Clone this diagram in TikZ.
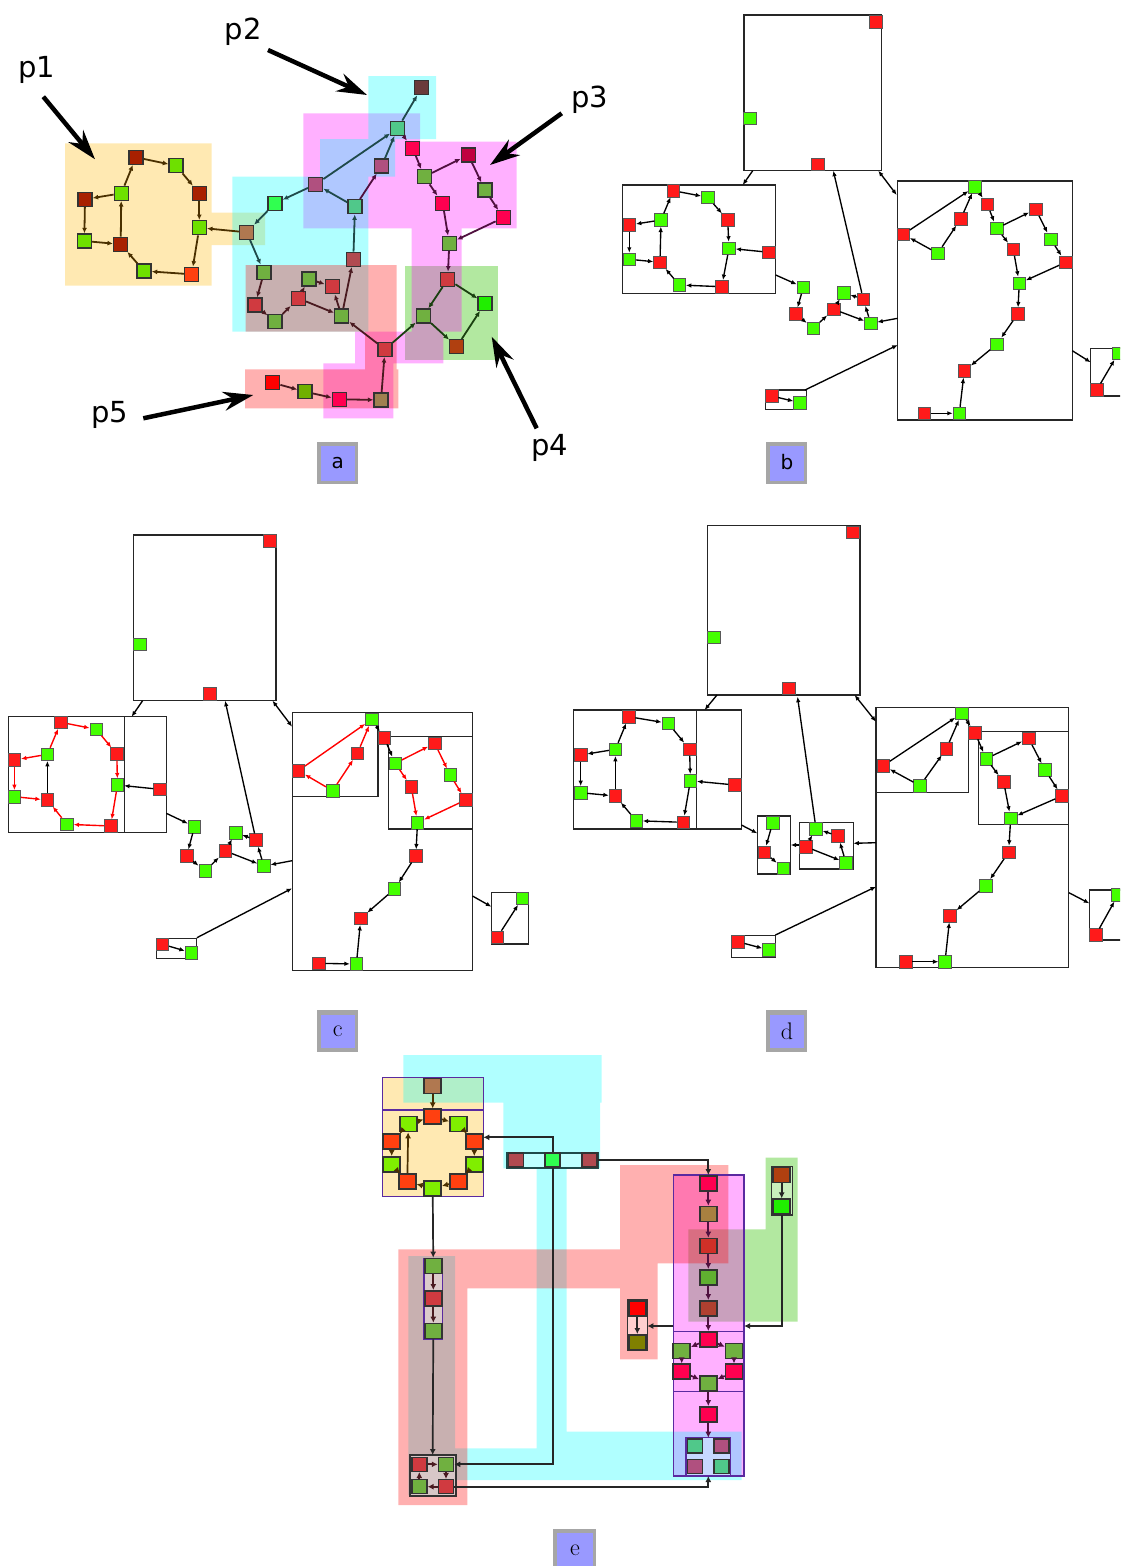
\documentclass[tikz,border=0pt]{standalone}
\usepackage{fontspec}
\newfontfamily\dvs{DejaVu Sans}
\usetikzlibrary{arrows.meta}
\definecolor{nr}{HTML}{FF1A1A}
\definecolor{ng}{HTML}{44FF00}
\definecolor{aDR}{HTML}{A82000}
\definecolor{aLG}{HTML}{6EE000}
\definecolor{aOR}{HTML}{FF4010}
\definecolor{aBR}{HTML}{6A3A3A}
\definecolor{aTG}{HTML}{50C88A}
\definecolor{aMV}{HTML}{B0507F}
\definecolor{aBG}{HTML}{30FF50}
\definecolor{aBN}{HTML}{B07850}
\definecolor{aOG}{HTML}{70B040}
\definecolor{aMR}{HTML}{B04A50}
\definecolor{aPK}{HTML}{FF0050}
\definecolor{aCR}{HTML}{C00040}
\definecolor{aRD}{HTML}{D03A40}
\definecolor{aGG}{HTML}{20EE00}
\definecolor{aOB}{HTML}{B04010}
\definecolor{aRR}{HTML}{FF0000}
\definecolor{aOL}{HTML}{70B000}
\definecolor{aTN}{HTML}{A08050}
\definecolor{eLG}{HTML}{80EE00}
\definecolor{eM2}{HTML}{A88040}
\definecolor{eM3}{HTML}{D03028}
\definecolor{eM4}{HTML}{60B030}
\definecolor{eM5}{HTML}{B04030}
\definecolor{eOL}{HTML}{808000}
\definecolor{pcA}{HTML}{4A3000}
\definecolor{pcB}{HTML}{1F4A4A}
\definecolor{pcC}{HTML}{50103F}
\definecolor{pcD}{HTML}{1A4010}
\definecolor{pcE}{HTML}{4A1A20}
\definecolor{frP}{HTML}{5A2AA0}
\definecolor{cY}{rgb}{1,0.727,0}
\definecolor{cG}{rgb}{0.25,0.78,0.07}
\definecolor{cM}{rgb}{1,0,1}
\definecolor{cC}{rgb}{0,1,1}
\definecolor{cS}{rgb}{1,0,0}
\definecolor{lblue}{HTML}{9999FF}
\newcommand\qa[4]{\node[sqa,fill=#4] (#1) at (#2,#3) {};}
\newcommand\qb[4]{\node[sqb,fill=#4] (#1) at (#2,#3) {};}
\newcommand\qe[4]{\node[sqe,fill=#4] (#1) at (#2,#3) {};}
\newcommand\qs[4]{\node[sqs,fill=#4] (#1) at (#2,#3) {};}
\begin{document}
\begin{tikzpicture}[x=1pt,y=-1pt,
  sqa/.style={rectangle,draw=black!80,line width=1.4pt,minimum size=14pt,inner sep=0pt},
  sqb/.style={rectangle,draw=black!65,line width=0.6pt,minimum size=12.5pt,inner sep=0pt},
  sqe/.style={rectangle,draw=black!80,line width=1.6pt,minimum width=17pt,minimum height=15pt,inner sep=0pt},
  sqs/.style={rectangle,draw=black!80,line width=1.5pt,minimum width=15pt,minimum height=14pt,inner sep=0pt},
  ea/.style={line width=1.8pt,-{Latex[length=5.5pt,width=5pt]}},
  eb/.style={line width=1.35pt,draw=black,-{Latex[length=5.5pt,width=4.5pt]}},
  ebb/.style={line width=1.35pt,draw=black,{Latex[length=5.5pt,width=4.5pt]}-{Latex[length=5.5pt,width=4.5pt]}},
  er/.style={line width=1.4pt,draw=red,-{Latex[length=5.5pt,width=4.5pt]}},
  ee/.style={line width=1.7pt,-{Latex[length=6pt,width=6pt]}},
  bx/.style={draw=black!85,line width=1.1pt},
  bigarr/.style={line width=4.5pt,-{Stealth[length=30pt,width=19pt,inset=10pt]}},
  plab/.style={font=\dvs\fontsize{29}{30}\selectfont,inner sep=0pt},
  lsans/.style={font=\dvs\fontsize{20}{20}\selectfont,inner sep=0pt},
  lser/.style={font=\fontsize{24}{24}\selectfont,inner sep=0pt}]
\clip (0,0) rectangle (1120,1566);
\fill[white] (0,0) rectangle (1120,1566);

% ================= panel a backgrounds
\fill[cY,fill opacity=0.3] (65,143.3) rectangle (211.7,285.7) (211.7,212.7) rectangle (265,245);
\fill[cG,fill opacity=0.4] (405,266) rectangle (498.3,360);
\fill[cM,fill opacity=0.31] (303.3,113.3) rectangle (420,228.3) (420,141.7) rectangle (516.7,228.3)
  (411.7,228.3) rectangle (461.7,331.7) (355,331.7) rectangle (443.3,363.3) (323.3,363.3) rectangle (393.3,418.3);
\fill[cC,fill opacity=0.31] (368.3,76) rectangle (436,139) (320,139) rectangle (395,176.7)
  (320,176.7) rectangle (368.3,228) (232.3,176.7) rectangle (368.3,331.7);
\fill[cS,fill opacity=0.31] (245.7,265) rectangle (396.7,331.7) (365,331.7) rectangle (396.7,369.3)
  (245,369.3) rectangle (398.3,408.3);

% ================= panel a nodes
\qa{a1}{136}{157.3}{aDR}
\qa{a2}{176}{165.7}{aLG}
\qa{a3}{199.3}{193.3}{aDR}
\qa{a4}{199.3}{227.7}{aLG}
\qa{a5}{191.7}{274.3}{aOR}
\qa{a6}{144}{271}{aLG}
\qa{a7}{120.7}{244.3}{aDR}
\qa{a8}{121.3}{193.3}{aLG}
\qa{a9}{85}{199.3}{aDR}
\qa{a10}{84.3}{241}{aLG}
\qa{a11}{421.7}{87.7}{aBR}
\qa{a12}{397.7}{128.3}{aTG}
\qa{a13}{315.7}{184.3}{aMV}
\qa{a14}{381.7}{166}{aMV}
\qa{a15}{355}{206.7}{aTG}
\qa{a16}{275}{203.3}{aBG}
\qa{a17}{246.7}{232.3}{aBN}
\qa{a18}{264}{272.3}{aOG}
\qa{a19}{353.3}{259.3}{aMR}
\qa{a20}{412.7}{148.3}{aPK}
\qa{a21}{468.3}{155}{aCR}
\qa{a22}{424.3}{176.7}{aOG}
\qa{a23}{485}{190}{aOG}
\qa{a24}{503.3}{217.7}{aPK}
\qa{a25}{442.7}{203.3}{aPK}
\qa{a26}{449.3}{243.3}{aOG}
\qa{a27}{447.7}{279.3}{aRD}
\qa{a28}{485}{303.3}{aGG}
\qa{a29}{423.3}{316}{aOG}
\qa{a30}{456.7}{346.7}{aOB}
\qa{a31}{385}{349.3}{aRD}
\qa{a32}{255}{305}{aRD}
\qa{a33}{275}{321.7}{aOG}
\qa{a34}{298.3}{298.3}{aRD}
\qa{a35}{309}{279}{aOG}
\qa{a36}{332.3}{286.7}{aRD}
\qa{a37}{341.7}{316}{aOG}
\qa{a38}{272.7}{382.7}{aRR}
\qa{a39}{305}{391.7}{aOL}
\qa{a40}{339.3}{399.3}{aPK}
\qa{a41}{381}{400}{aTN}

% panel a edges
\begin{scope}[pcA]
\draw[ea] (a1) -- (a2); \draw[ea] (a2) -- (a3); \draw[ea] (a3) -- (a4); \draw[ea] (a4) -- (a5);
\draw[ea] (a5) -- (a6); \draw[ea] (a6) -- (a7); \draw[ea] (a7) -- (a8); \draw[ea] (a8) -- (a1);
\draw[ea] (a8) -- (a9); \draw[ea] (a9) -- (a10); \draw[ea] (a10) -- (a7); \draw[ea] (a17) -- (a4);
\end{scope}
\begin{scope}[pcB]
\draw[ea] (a12) -- (a11); \draw[ea] (a13) -- (a12); \draw[ea] (a15) -- (a13); \draw[ea] (a14) -- (a12);
\draw[ea] (a13) -- (a16); \draw[ea] (a16) -- (a17); \draw[ea] (a17) -- (a18); \draw[ea] (a19) -- (a15);
\end{scope}
\begin{scope}[pcC]
\draw[ea] (a15) -- (a14); \draw[ea] (a12) -- (a20); \draw[ea] (a20) -- (a22); \draw[ea] (a22) -- (a21);
\draw[ea] (a21) -- (a23); \draw[ea] (a23) -- (a24); \draw[ea] (a24) -- (a26); \draw[ea] (a22) -- (a25);
\draw[ea] (a25) -- (a26); \draw[ea] (a26) -- (a27);
\end{scope}
\begin{scope}[pcD]
\draw[ea] (a27) -- (a28); \draw[ea] (a27) -- (a29); \draw[ea] (a29) -- (a30); \draw[ea] (a30) -- (a28);
\draw[ea] (a31) -- (a29);
\end{scope}
\begin{scope}[pcE]
\draw[ea] (a18) -- (a32); \draw[ea] (a32) -- (a33); \draw[ea] (a33) -- (a34); \draw[ea] (a34) -- (a35);
\draw[ea] (a37) -- (a36); \draw[ea] (a35) -- (a36); \draw[ea] (a34) -- (a37); \draw[ea] (a37) -- (a19);
\draw[ea] (a31) -- (a37); \draw[ea] (a38) -- (a39); \draw[ea] (a39) -- (a40); \draw[ea] (a40) -- (a41);
\draw[ea] (a41) -- (a31);
\end{scope}

% p labels
\node[plab] (lp1) at (36.7,70) {p1};
\node[plab] (lp2) at (243.3,32) {p2};
\node[plab] (lp3) at (590,100) {p3};
\node[plab] (lp4) at (550,448) {p4};
\node[plab] (lp5) at (110,415) {p5};
\coordinate (ap1s) at (43.3,96.7); \coordinate (ap1e) at (95,159.3);
\coordinate (ap2s) at (268,50); \coordinate (ap2e) at (367,95);
\coordinate (ap3s) at (561.7,113.3); \coordinate (ap3e) at (490,165);
\coordinate (ap4s) at (536.7,428.3); \coordinate (ap4e) at (491.7,336.7);
\coordinate (ap5s) at (143.3,418.3); \coordinate (ap5e) at (253.3,395);
\draw[bigarr] (ap1s) -- (ap1e);
\draw[bigarr] (ap2s) -- (ap2e);
\draw[bigarr] (ap3s) -- (ap3e);
\draw[bigarr] (ap4s) -- (ap4e);
\draw[bigarr] (ap5s) -- (ap5e);

% ================= panel b
\draw[bx] (744,15) rectangle (881.7,170.7);
\draw[bx] (622.7,185) rectangle (775.7,293.3);
\draw[bx] (897.7,181) rectangle (1072.3,420);
\draw[bx] (765.7,390) rectangle (806.7,409.3);
\draw[bx] (1090.7,348.3) rectangle (1130,396);
\coordinate (bTL) at (752.7,170.7); \coordinate (bLT) at (742.7,185);
\coordinate (bTR) at (878.3,170.7); \coordinate (bRT) at (896.7,195);
\coordinate (bTm) at (833.3,170.7); \coordinate (bLm) at (775.7,275);
\coordinate (bRm) at (897.7,318.3); \coordinate (bSR) at (805,390);
\coordinate (bRS) at (897.7,345); \coordinate (bRQ) at (1072.3,350.7); \coordinate (bQR) at (1090.7,362.3);
\qb{bt1}{875.7}{21.7}{nr} \qb{bt2}{750}{118.3}{ng} \qb{bt3}{817.7}{164.3}{nr}
\qb{ba}{673.3}{190.7}{nr} \qb{bb}{707.7}{197.3}{ng} \qb{bc}{727.7}{220}{nr} \qb{bd}{729}{248.3}{ng}
\qb{be}{769}{252.3}{nr} \qb{bf}{721.7}{286.7}{nr} \qb{bg}{679.3}{285}{ng} \qb{bh}{660}{262.3}{nr}
\qb{bi}{661}{220}{ng} \qb{bj}{629.3}{225}{nr} \qb{bk}{629.3}{259.3}{ng}
\qb{bm1}{803.3}{287.3}{ng} \qb{bm2}{795.7}{314}{nr} \qb{bm3}{813.3}{328.3}{ng} \qb{bm4}{833.7}{309.3}{nr}
\qb{bm5}{843.7}{292.7}{ng} \qb{bm6}{863.3}{299.3}{nr} \qb{bm7}{870.7}{323.3}{ng}
\qb{br1}{975}{186.7}{ng} \qb{br2}{903.3}{234.3}{nr} \qb{br3}{937.7}{253.3}{ng} \qb{br4}{960.7}{219}{nr}
\qb{br5}{987.3}{204.3}{nr} \qb{br6}{996.7}{228.3}{ng} \qb{br7}{1035.7}{209.3}{nr} \qb{br8}{1050.7}{239.3}{ng}
\qb{br9}{1065.7}{262.3}{nr} \qb{br10}{1013.3}{249.3}{nr} \qb{br11}{1019.3}{283.3}{ng} \qb{br12}{1017.7}{314}{nr}
\qb{br13}{996.7}{344.3}{ng} \qb{br14}{964.3}{371}{nr} \qb{br15}{959.3}{413.3}{ng} \qb{br16}{924.3}{413.3}{nr}
\qb{bs1}{771.7}{396}{nr} \qb{bs2}{800}{402.7}{ng}
\qb{bq1}{1096.7}{390}{nr} \qb{bq2}{1118.3}{353.3}{ng}
\draw[eb] (ba) -- (bb); \draw[eb] (bb) -- (bc); \draw[eb] (bc) -- (bd); \draw[eb] (be) -- (bd);
\draw[eb] (bd) -- (bf); \draw[eb] (bf) -- (bg); \draw[eb] (bg) -- (bh); \draw[eb] (bh) -- (bi);
\draw[eb] (bi) -- (ba); \draw[eb] (bi) -- (bj); \draw[eb] (bj) -- (bk); \draw[eb] (bk) -- (bh);
\draw[eb] (bLm) -- (bm1); \draw[eb] (bm1) -- (bm2); \draw[eb] (bm2) -- (bm3); \draw[eb] (bm3) -- (bm4);
\draw[eb] (bm4) -- (bm5); \draw[eb] (bm6) -- (bm5); \draw[eb] (bm4) -- (bm7); \draw[eb] (bm7) -- (bm6);
\draw[eb] (bm6) -- (bTm); \draw[eb] (bRm) -- (bm7);
\draw[eb] (br2) -- (br1); \draw[eb] (br3) -- (br2); \draw[eb] (br3) -- (br4); \draw[eb] (br4) -- (br1);
\draw[eb] (br1) -- (br5); \draw[eb] (br5) -- (br6); \draw[eb] (br6) -- (br7); \draw[eb] (br7) -- (br8);
\draw[eb] (br8) -- (br9); \draw[eb] (br9) -- (br11); \draw[eb] (br6) -- (br10); \draw[eb] (br10) -- (br11);
\draw[eb] (br11) -- (br12); \draw[eb] (br12) -- (br13); \draw[eb] (br13) -- (br14); \draw[eb] (br15) -- (br14);
\draw[eb] (br16) -- (br15);
\draw[eb] (bs1) -- (bs2); \draw[eb] (bSR) -- (bRS); \draw[eb] (bRQ) -- (bQR); \draw[eb] (bq1) -- (bq2);
\draw[eb] (bTL) -- (bLT); \draw[ebb] (bTR) -- (bRT);

% ================= panel c
\draw[bx] (133.3,535) rectangle (276,700.7);
\draw[bx] (8.6,716.7) rectangle (166.3,832.7);
\draw[bx] (124.4,716.7) -- (124.4,832.7);
\draw[bx] (292.1,712.3) rectangle (472.5,970.7);
\draw[bx] (292.1,796.7) -- (378,796.7) -- (378,712.3);
\draw[bx] (388.3,736.7) rectangle (472.5,829);
\draw[bx] (156.4,938.3) rectangle (196.9,958.7);
\draw[bx] (491.4,892.7) rectangle (528.5,944);
\coordinate (cTL) at (142.6,700.7); \coordinate (cLT) at (131.6,716.7);
\coordinate (cTR) at (272.5,700.7); \coordinate (cRT) at (292.1,726.7);
\coordinate (cTm) at (225.1,700.7); \coordinate (cLm) at (166.3,813.3);
\coordinate (cRm) at (292.1,860.7); \coordinate (cSR) at (196.9,937.7);
\coordinate (cRS) at (292.1,888.3); \coordinate (cRQ) at (472.5,896); \coordinate (cQR) at (491.4,906.7);
\qb{ct1}{269.7}{541}{nr} \qb{ct2}{139.8}{644.3}{ng} \qb{ct3}{210}{694}{nr}
\qb{ca}{60.8}{722.3}{nr} \qb{cb}{96.2}{729.3}{ng} \qb{cc}{116.8}{754}{nr} \qb{cd}{117.5}{785}{ng}
\qb{ce}{159.8}{789.3}{nr} \qb{cf}{110.6}{826}{nr} \qb{cg}{67}{824.3}{ng} \qb{ch}{47.4}{800}{nr}
\qb{ci}{47.4}{754.3}{ng} \qb{cj}{14.4}{760}{nr} \qb{ck}{14.4}{796.7}{ng}
\qb{cm1}{194.5}{826.7}{ng} \qb{cm2}{186.6}{856}{nr} \qb{cm3}{205.1}{871}{ng} \qb{cm4}{225.4}{851}{nr}
\qb{cm5}{235.7}{832.7}{ng} \qb{cm6}{256}{840}{nr} \qb{cm7}{263.9}{866}{ng}
\qb{cr1}{371.8}{719.3}{ng} \qb{cr2}{298.3}{770.7}{nr} \qb{cr3}{332.6}{790.7}{ng} \qb{cr4}{357.4}{753.3}{nr}
\qb{cr5}{384.2}{737.7}{nr} \qb{cr6}{395.2}{763.3}{ng} \qb{cr7}{434.7}{743.3}{nr} \qb{cr8}{450.2}{775}{ng}
\qb{cr9}{465.6}{800}{nr} \qb{cr10}{411.3}{786.7}{nr} \qb{cr11}{417.5}{822.7}{ng} \qb{cr12}{415.8}{856}{nr}
\qb{cr13}{394.5}{889}{ng} \qb{cr14}{360.8}{918.3}{nr} \qb{cr15}{356.4}{964}{ng} \qb{cr16}{318.9}{963.3}{nr}
\qb{cs1}{162.5}{944.3}{nr} \qb{cs2}{191.4}{952.7}{ng}
\qb{cq1}{497.2}{937.3}{nr} \qb{cq2}{522.3}{898.3}{ng}
\draw[er] (ca) -- (cb); \draw[er] (cb) -- (cc); \draw[er] (cc) -- (cd); \draw[eb] (ce) -- (cd);
\draw[er] (cd) -- (cf); \draw[er] (cf) -- (cg); \draw[er] (cg) -- (ch); \draw[eb] (ch) -- (ci);
\draw[er] (ci) -- (ca); \draw[er] (ci) -- (cj); \draw[er] (cj) -- (ck); \draw[er] (ck) -- (ch);
\draw[eb] (cLm) -- (cm1); \draw[eb] (cm1) -- (cm2); \draw[eb] (cm2) -- (cm3); \draw[eb] (cm3) -- (cm4);
\draw[eb] (cm4) -- (cm5); \draw[eb] (cm6) -- (cm5); \draw[eb] (cm4) -- (cm7); \draw[eb] (cm7) -- (cm6);
\draw[eb] (cm6) -- (cTm); \draw[eb] (cRm) -- (cm7);
\draw[er] (cr2) -- (cr1); \draw[er] (cr3) -- (cr2); \draw[er] (cr3) -- (cr4); \draw[er] (cr4) -- (cr1);
\draw[eb] (cr1) -- (cr5); \draw[eb] (cr5) -- (cr6); \draw[er] (cr6) -- (cr7); \draw[er] (cr7) -- (cr8);
\draw[er] (cr8) -- (cr9); \draw[er] (cr9) -- (cr11); \draw[er] (cr6) -- (cr10); \draw[er] (cr10) -- (cr11);
\draw[eb] (cr11) -- (cr12); \draw[eb] (cr12) -- (cr13); \draw[eb] (cr13) -- (cr14); \draw[eb] (cr15) -- (cr14);
\draw[eb] (cr16) -- (cr15);
\draw[eb] (cs1) -- (cs2); \draw[eb] (cSR) -- (cRS); \draw[eb] (cRQ) -- (cQR); \draw[eb] (cq1) -- (cq2);
\draw[eb] (cTL) -- (cLT); \draw[ebb] (cTR) -- (cRT);

% ================= panel d
\draw[bx] (707.5,525.7) rectangle (860,695);
\draw[bx] (573.6,710) rectangle (741.4,829);
\draw[bx] (696.8,710) -- (696.8,829);
\draw[bx] (757.3,816) rectangle (790.7,874);
\draw[bx] (799.3,822.3) rectangle (853.3,869);
\draw[bx] (876,707.3) rectangle (1068.9,967.7);
\draw[bx] (876,792.7) -- (968.2,792.7) -- (968.2,707.3);
\draw[bx] (978.9,731.7) rectangle (1068.9,824.3);
\draw[bx] (731.8,935.7) rectangle (775.4,957.3);
\draw[bx] (1089.3,890) rectangle (1130,940);
\coordinate (dTL) at (717,695); \coordinate (dLT) at (704.6,710);
\coordinate (dTR) at (854.6,695); \coordinate (dRT) at (876,721.7);
\coordinate (dTm) at (797.5,696.7); \coordinate (dLm) at (741.4,825); \coordinate (dB1) at (757.3,833.3);
\coordinate (dB1r) at (790.7,845); \coordinate (dB2l) at (799.3,845);
\coordinate (dRm) at (876,842.7); \coordinate (dB2r) at (853.3,843.3);
\coordinate (dSR) at (775.4,935); \coordinate (dRS) at (876,886.7);
\coordinate (dRQ) at (1068.9,892.7); \coordinate (dQR) at (1089.3,903.3);
\qb{dt1}{852.9}{532.3}{nr} \qb{dt2}{713.6}{637.3}{ng} \qb{dt3}{788.6}{688.3}{nr}
\qb{da}{628.9}{716.7}{nr} \qb{db}{668.2}{723.3}{ng} \qb{dc}{689.6}{749.3}{nr} \qb{dd}{690.4}{780.7}{ng}
\qb{de}{735}{785}{nr} \qb{df}{683.2}{822.3}{nr} \qb{dg}{636.1}{820.7}{ng} \qb{dh}{615.4}{796}{nr}
\qb{di}{615.4}{749.3}{ng} \qb{dj}{580.7}{755}{nr} \qb{dk}{580.7}{792.7}{ng}
\qb{dm1}{772.7}{822.7}{ng} \qb{dm2}{764.3}{852.3}{nr} \qb{dm3}{783.3}{868.3}{ng}
\qb{dm5}{816}{828.7}{ng} \qb{dm6}{838}{836}{nr} \qb{dm4}{805.7}{846.7}{nr} \qb{dm7}{846}{862.7}{ng}
\qb{dr1}{961.8}{713.3}{ng} \qb{dr2}{883.2}{765.7}{nr} \qb{dr3}{920}{785.7}{ng} \qb{dr4}{946.4}{748.7}{nr}
\qb{dr5}{975}{732.7}{nr} \qb{dr6}{986.1}{758.7}{ng} \qb{dr7}{1028.6}{738.3}{nr} \qb{dr8}{1045}{770}{ng}
\qb{dr9}{1061.8}{796}{nr} \qb{dr10}{1003.6}{781.7}{nr} \qb{dr11}{1010.7}{818.3}{ng} \qb{dr12}{1008.6}{852.3}{nr}
\qb{dr13}{985.7}{885.7}{ng} \qb{dr14}{950}{915.7}{nr} \qb{dr15}{945}{961.7}{ng} \qb{dr16}{905.7}{961.7}{nr}
\qb{ds1}{737.9}{941.7}{nr} \qb{ds2}{768.9}{950}{ng}
\qb{dq1}{1095.7}{935}{nr} \qb{dq2}{1118}{895}{ng}
\draw[eb] (da) -- (db); \draw[eb] (db) -- (dc); \draw[eb] (dc) -- (dd); \draw[eb] (de) -- (dd);
\draw[eb] (dd) -- (df); \draw[eb] (df) -- (dg); \draw[eb] (dg) -- (dh); \draw[eb] (dh) -- (di);
\draw[eb] (di) -- (da); \draw[eb] (di) -- (dj); \draw[eb] (dj) -- (dk); \draw[eb] (dk) -- (dh);
\draw[eb] (dLm) -- (dB1); \draw[eb] (dm1) -- (dm2); \draw[eb] (dm2) -- (dm3); \draw[eb] (dB2l) -- (dB1r);
\draw[eb] (dm4) -- (dm5); \draw[eb] (dm6) -- (dm5); \draw[eb] (dm4) -- (dm7); \draw[eb] (dm7) -- (dm6);
\draw[eb] (dm5) -- (dTm); \draw[eb] (dRm) -- (dB2r);
\draw[eb] (dr2) -- (dr1); \draw[eb] (dr3) -- (dr2); \draw[eb] (dr3) -- (dr4); \draw[eb] (dr4) -- (dr1);
\draw[eb] (dr1) -- (dr5); \draw[eb] (dr5) -- (dr6); \draw[eb] (dr6) -- (dr7); \draw[eb] (dr7) -- (dr8);
\draw[eb] (dr8) -- (dr9); \draw[eb] (dr9) -- (dr11); \draw[eb] (dr6) -- (dr10); \draw[eb] (dr10) -- (dr11);
\draw[eb] (dr11) -- (dr12); \draw[eb] (dr12) -- (dr13); \draw[eb] (dr13) -- (dr14); \draw[eb] (dr15) -- (dr14);
\draw[eb] (dr16) -- (dr15);
\draw[eb] (ds1) -- (ds2); \draw[eb] (dSR) -- (dRS); \draw[eb] (dRQ) -- (dQR); \draw[eb] (dq1) -- (dq2);
\draw[eb] (dTL) -- (dLT); \draw[ebb] (dTR) -- (dRT);

% ================= panel e backgrounds
\fill[cY,fill opacity=0.3] (382.7,1077.3) rectangle (483.3,1196.7);
\fill[cG,fill opacity=0.4] (765.7,1157.7) rectangle (797.7,1229.3) (688.3,1229.3) rectangle (797.7,1321.7);
\fill[cM,fill opacity=0.31] (673.3,1175) rectangle (744,1476);
\fill[cC,fill opacity=0.31] (403.3,1055) rectangle (601.7,1102.7) (503.3,1102.7) rectangle (600,1168.3)
  (536.7,1168.3) rectangle (566.7,1480) (454,1448.3) rectangle (536.7,1480) (566.7,1431.7) rectangle (741.7,1480)
  (408.3,1256) rectangle (455,1495);
\fill[cS,fill opacity=0.31] (398.3,1249.3) rectangle (467.3,1505) (467.3,1249.3) rectangle (620,1288.3)
  (620,1165) rectangle (728.3,1263.3) (620,1263.3) rectangle (657.7,1359.3);

% panel e frames
\draw[frP,line width=1.5pt] (382.7,1077.3) rectangle (483.3,1196.7);
\draw[frP,line width=1.2pt] (382.7,1110) -- (483.3,1110);
\draw[frP,line width=1.6pt] (673.3,1175) rectangle (744,1476);
\draw[frP,line width=1.2pt] (673.3,1331.7) -- (744,1331.7) (673.3,1391.7) -- (744,1391.7);
\filldraw[fill=white,fill opacity=0.35,draw=frP,line width=1.2pt] (424,1258.3) rectangle (442.7,1339.3);
\filldraw[fill=white,fill opacity=0.3,draw=black!80,line width=1.5pt] (410,1455) rectangle (456,1496);
\filldraw[fill=white,fill opacity=0.3,draw=frP,line width=1.5pt] (686,1437.7) rectangle (730.7,1476);
\filldraw[fill=white,fill opacity=0.4,draw=black!80,line width=1.5pt] (627.3,1300) rectangle (647.3,1350.7);
\filldraw[fill=white,fill opacity=0.3,draw=black!80,line width=1.5pt] (771.7,1166.7) rectangle (792.3,1215);
\filldraw[fill=cC!25,draw=pcB,line width=1.8pt] (506.7,1152.7) rectangle (598.3,1168.3);

% panel e connector coordinates
\coordinate (eYe) at (483.3,1137.3);
\coordinate (eCb) at (708.3,1476);
\coordinate (eCt) at (708.3,1437.7);
\coordinate (eBt) at (432.7,1455);
\coordinate (eSr) at (647.3,1326); \coordinate (eMl) at (673.3,1326);
\coordinate (eGb) at (781.7,1215); \coordinate (eMr) at (744,1326);

% panel e nodes
\qe{Y0}{432.7}{1086}{aBN}
\qe{Y1}{432.7}{1116.7}{aOR}
\qe{Y2}{408.3}{1124}{eLG}
\qe{Y3}{458.3}{1124}{eLG}
\qe{Y4}{391.7}{1141.7}{aOR}
\qe{Y5}{474.3}{1141.7}{aOR}
\qe{Y6}{391.7}{1164.3}{eLG}
\qe{Y7}{474.3}{1164.3}{eLG}
\qe{Y8}{407.3}{1181.7}{aOR}
\qe{Y9}{458.3}{1181.7}{aOR}
\qe{Y10}{432.7}{1188.3}{eLG}
\qs{R1}{516}{1160}{aMR}
\qs{R2}{552.7}{1160}{aBG}
\qs{R3}{589.3}{1160}{aMR}
\qe{L1}{433.3}{1266}{aOG}
\qe{L2}{433.3}{1298.3}{aRD}
\qe{L3}{433.3}{1331}{aOG}
\qs{B1}{419.3}{1464.3}{aRD}
\qs{B2}{446}{1464.3}{aOG}
\qs{B3}{419.3}{1486.7}{aOG}
\qs{B4}{446}{1486.7}{aRD}
\qe{S1}{637.3}{1308.3}{aRR}
\qe{S2}{637.3}{1342.3}{eOL}
\qe{M1}{708.3}{1183.3}{aPK}
\qe{M2}{708.3}{1214}{eM2}
\qe{M3}{708.3}{1246}{eM3}
\qe{M4}{708.3}{1277.3}{eM4}
\qe{M5}{708.3}{1308.3}{eM5}
\qe{M6}{708.3}{1339.3}{aPK}
\qe{M7}{681.7}{1351}{aOG}
\qe{M8}{734}{1351}{aOG}
\qe{M9}{681.7}{1371.7}{aPK}
\qe{M10}{734}{1371.7}{aPK}
\qe{M11}{708.3}{1383.3}{aOG}
\qe{M12}{708.3}{1414.3}{aPK}
\qs{C1}{695}{1446}{aTG}
\qs{C2}{721.7}{1446}{aMV}
\qs{C3}{695}{1466.7}{aMV}
\qs{C4}{721.7}{1466.7}{aTG}
\qe{G1}{781.7}{1175}{aOB}
\qe{G2}{781.7}{1206.7}{aGG}

% panel e edges
\begin{scope}[pcA]
\draw[ee] (Y0) -- (Y1); \draw[ee] (Y1) -- (Y3); \draw[ee] (Y3) -- (Y5); \draw[ee] (Y5) -- (Y7);
\draw[ee] (Y7) -- (Y9); \draw[ee] (Y9) -- (Y10); \draw[ee] (Y10) -- (Y8); \draw[ee] (Y8) -- (Y2);
\draw[ee] (Y2) -- (Y1); \draw[ee] (Y2) -- (Y4); \draw[ee] (Y4) -- (Y6); \draw[ee] (Y6) -- (Y8);
\end{scope}
\begin{scope}[black!85]
\draw[ee] (Y10) -- (L1);
\draw[ee] (R2.north) |- (eYe);
\draw[ee] (R3.east) -| (M1.north);
\draw[ee] (R2.south) |- (B2.east);
\draw[ee] (B4.east) -| (eCb);
\draw[ee] (L3) -- (eBt);
\draw[ee] (eMl) -- (eSr);
\draw[ee] (eGb) |- (eMr);
\draw[ee] (G1) -- (G2);
\draw[ee] (S1) -- (S2);
\end{scope}
\begin{scope}[pcE]
\draw[ee] (L1) -- (L2); \draw[ee] (L2) -- (L3);
\draw[ee] (B1) -- (B2); \draw[ee] (B2) -- (B4); \draw[ee] (B4) -- (B3); \draw[ee] (B3) -- (B1);
\end{scope}
\begin{scope}[pcC]
\draw[ee] (M1) -- (M2); \draw[ee] (M2) -- (M3); \draw[ee] (M3) -- (M4); \draw[ee] (M4) -- (M5);
\draw[ee] (M5) -- (M6); \draw[ee] (M6) -- (M7); \draw[ee] (M6) -- (M8); \draw[ee] (M7) -- (M9);
\draw[ee] (M8) -- (M10); \draw[ee] (M9) -- (M11); \draw[ee] (M10) -- (M11); \draw[ee] (M11) -- (M12);
\draw[ee] (M12) -- (eCt);
\end{scope}

% ================= panel labels
\fill[gray!70] (316.7,441.7) rectangle (358.3,484.3);
\fill[lblue] (320.7,445.7) rectangle (355,481);
\node[lsans] (la) at (337.8,463) {a};
\fill[gray!70] (766,441.7) rectangle (807.3,484.3);
\fill[lblue] (770,445.7) rectangle (804,481);
\node[lsans] (lb) at (787,462) {b};
\fill[gray!70] (316.7,1010) rectangle (358.3,1051.7);
\fill[lblue] (320.7,1015) rectangle (355,1048.3);
\node[lser] (lc) at (337.8,1031) {c};
\fill[gray!70] (766,1010) rectangle (807.3,1051.7);
\fill[lblue] (770,1015) rectangle (804,1048.3);
\node[lser] (ld) at (787,1031) {d};
\fill[gray!70] (553.3,1529.3) rectangle (596,1572);
\fill[lblue] (557.3,1533.3) rectangle (592.7,1570);
\node[lser] (le) at (575,1550) {e};
\end{tikzpicture}
\end{document}
